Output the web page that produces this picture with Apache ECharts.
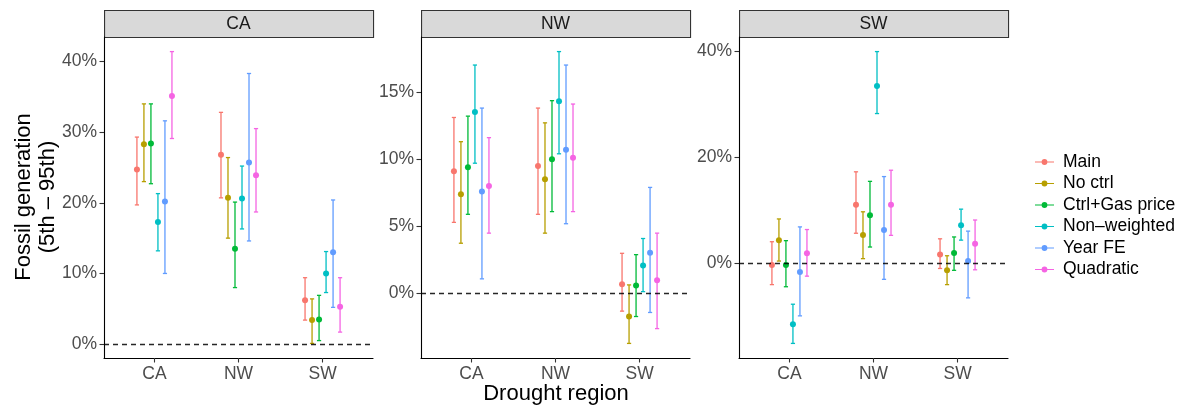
<!DOCTYPE html>
<html>
<head>
<meta charset="utf-8">
<script src="https://cdn.jsdelivr.net/npm/echarts@6/dist/echarts.min.js"></script>
<style>
  html, body { margin: 0; padding: 0; background: #fff; }
  #main { width: 1184px; height: 411px; }
</style>
</head>
<body>
<div id="main"></div>
<script>
// facets and x categories are the same drought regions
const regions = ['CA', 'NW', 'SW'];
const models = ['Main', 'No ctrl', 'Ctrl+Gas price', 'Non–weighted', 'Year FE', 'Quadratic'];
const colors = ['#F8766D', '#B79F00', '#00BA38', '#00BFC4', '#619CFF', '#F564E3'];
const yTicks = [[0, 10, 20, 30, 40], [0, 5, 10, 15], [0, 20, 40]];

// rows = models, columns = x category (CA, NW, SW), values in %
const estCA  = [[24.7, 26.8, 6.2], [28.3, 20.7, 3.4], [28.4, 13.5, 3.5], [17.3, 20.6, 10.0], [20.2, 25.7, 13.0], [35.1, 23.9, 5.3]];
const lowCA  = [[19.7, 20.7, 3.4], [23.0, 15.0, 0.1], [22.7, 8.0, 0.5], [13.2, 16.3, 7.3], [10.0, 14.6, 5.2], [29.1, 18.7, 1.7]];
const highCA = [[29.3, 32.8, 9.4], [34.0, 26.4, 6.4], [34.0, 20.1, 6.9], [21.3, 25.2, 13.1], [31.6, 38.3, 20.4], [41.4, 30.5, 9.4]];

const estNW  = [[9.1, 9.5, 0.7], [7.4, 8.5, -1.7], [9.4, 10.0, 0.6], [13.5, 14.3, 2.1], [7.6, 10.7, 3.05], [8.0, 10.1, 1.0]];
const lowNW  = [[5.3, 5.9, -1.3], [3.75, 4.5, -3.7], [5.9, 6.1, -1.7], [9.7, 10.4, 0.15], [1.1, 5.2, -1.4], [4.5, 6.1, -2.6]];
const highNW = [[13.1, 13.8, 3.0], [11.3, 12.7, 0.65], [13.2, 14.35, 2.9], [17.0, 18.0, 4.1], [13.8, 17.0, 7.9], [11.6, 14.1, 4.5]];

const estSW  = [[-0.3, 11.1, 1.7], [4.4, 5.35, -1.3], [-0.3, 9.1, 1.95], [-11.5, 33.5, 7.2], [-1.6, 6.3, 0.45], [1.9, 11.1, 3.7]];
const lowSW  = [[-4.0, 5.7, -0.95], [0.45, 0.9, -4.0], [-4.4, 3.1, -1.3], [-15.1, 28.3, 4.4], [-9.9, -3.0, -6.5], [-2.4, 5.3, -1.2]];
const highSW = [[4.1, 17.3, 4.65], [8.4, 9.75, 1.45], [4.3, 15.5, 5.0], [-7.7, 40.0, 10.25], [6.9, 16.4, 6.1], [6.4, 17.6, 8.2]];

const panels = [
  { est: estCA, low: lowCA, high: highCA },
  { est: estNW, low: lowNW, high: highNW },
  { est: estSW, low: lowSW, high: highSW }
];

const FONT = '"Liberation Sans", Arial, Helvetica, sans-serif';
const panelLeft = [104, 421, 739];
const panelWidth = 269;
const gridTop = 37, gridBottom = 53;
const dodge = 0.5, capWidth = 0.05;

function yRange(p) {
  let lo = Infinity, hi = -Infinity;
  p.low.forEach(r => r.forEach(v => { lo = Math.min(lo, v); }));
  p.high.forEach(r => r.forEach(v => { hi = Math.max(hi, v); }));
  const pad = (hi - lo) * 0.05;
  return [lo - pad, hi + pad];
}

function renderBar(m) {
  return function (params, api) {
    const x = api.value(0) + 1 + (m - (models.length - 1) / 2) * dodge / models.length;
    const p = api.coord([x, api.value(1)]);
    const lo = api.coord([x, api.value(2)]);
    const hi = api.coord([x, api.value(3)]);
    const cap = api.size([capWidth, 0])[0] / 2;
    const st = { stroke: colors[m], lineWidth: 1.3 };
    return {
      type: 'group',
      children: [
        { type: 'line', shape: { x1: p[0], y1: lo[1], x2: p[0], y2: hi[1] }, style: st },
        { type: 'line', shape: { x1: p[0] - cap, y1: lo[1], x2: p[0] + cap, y2: lo[1] }, style: st },
        { type: 'line', shape: { x1: p[0] - cap, y1: hi[1], x2: p[0] + cap, y2: hi[1] }, style: st },
        { type: 'circle', shape: { cx: p[0], cy: p[1], r: 3 }, style: { fill: colors[m] } }
      ]
    };
  };
}

const grids = [], xAxes = [], yAxes = [], series = [], graphics = [];

panels.forEach((p, g) => {
  const yr = yRange(p);
  grids.push({ left: panelLeft[g], width: panelWidth, top: gridTop, bottom: gridBottom });
  xAxes.push({
    type: 'value', gridIndex: g, min: 0.4, max: 3.6,
    axisLine: { onZero: false, lineStyle: { color: '#000', width: 1.1 } },
    axisTick: { show: true, length: 4.5, customValues: [1, 2, 3], lineStyle: { color: '#333', width: 1.1 } },
    axisLabel: {
      customValues: [1, 2, 3], formatter: v => regions[v - 1],
      color: '#4D4D4D', fontSize: 17.5, fontFamily: FONT, margin: 7
    },
    splitLine: { show: false }
  });
  yAxes.push({
    type: 'value', gridIndex: g, min: yr[0], max: yr[1],
    axisLine: { show: true, lineStyle: { color: '#000', width: 1.1 } },
    axisTick: { show: true, length: 4.5, customValues: yTicks[g], lineStyle: { color: '#333', width: 1.1 } },
    axisLabel: {
      customValues: yTicks[g], formatter: v => v + '%',
      color: '#4D4D4D', fontSize: 17.5, fontFamily: FONT, margin: 7
    },
    splitLine: { show: false }
  });

  models.forEach((name, m) => {
    const rows = regions.map((r, c) => [c, p.est[m][c], p.low[m][c], p.high[m][c]]);
    series.push({
      type: 'custom', name: name, xAxisIndex: g, yAxisIndex: g,
      itemStyle: { color: colors[m] },
      renderItem: renderBar(m),
      encode: { x: 0, y: [1, 2, 3] },
      data: rows
    });
  });

  // dashed zero line, drawn over the bars
  series.push({
    type: 'line', name: 'zero' + g, xAxisIndex: g, yAxisIndex: g, data: [], z: 5,
    markLine: {
      silent: true, symbol: 'none', label: { show: false },
      lineStyle: { color: '#000', type: [5, 4], width: 1.3, opacity: 0.85 },
      data: [{ yAxis: 0 }]
    }
  });

  // facet strip
  graphics.push({
    type: 'rect', left: panelLeft[g], top: 10,
    shape: { width: panelWidth, height: 27 },
    style: { fill: '#D9D9D9', stroke: '#333', lineWidth: 1.1 }
  });
  graphics.push({
    type: 'text', x: panelLeft[g] + panelWidth / 2, y: 24,
    style: { text: regions[g], fill: '#1A1A1A', font: '17.5px ' + FONT, textAlign: 'center', textVerticalAlign: 'middle' }
  });
});

graphics.push({
  type: 'text', x: 36, y: 197, rotation: Math.PI / 2,
  style: {
    text: 'Fossil generation\n(5th – 95th)', fill: '#000', font: '22px ' + FONT,
    textAlign: 'center', textVerticalAlign: 'middle', lineHeight: 24
  }
});
graphics.push({
  type: 'text', x: 556, y: 394,
  style: { text: 'Drought region', fill: '#000', font: '22px ' + FONT, textAlign: 'center', textVerticalAlign: 'middle' }
});

const chart = echarts.init(document.getElementById('main'));
chart.setOption({
  animation: false,
  grid: grids,
  xAxis: xAxes,
  yAxis: yAxes,
  legend: {
    data: models,
    orient: 'vertical',
    left: 1030, top: 147,
    itemWidth: 19, itemHeight: 7, itemGap: 1.5,
    icon: 'path://M0,3L19,3L19,4.2L0,4.2Z M6.6,3.6A2.9,2.9,0,1,1,12.4,3.6A2.9,2.9,0,1,1,6.6,3.6Z',
    textStyle: { fontSize: 17.5, fontFamily: FONT, color: '#000', lineHeight: 20, padding: [0, 0, 0, 4] }
  },
  graphic: graphics,
  series: series
});
</script>
</body>
</html>
